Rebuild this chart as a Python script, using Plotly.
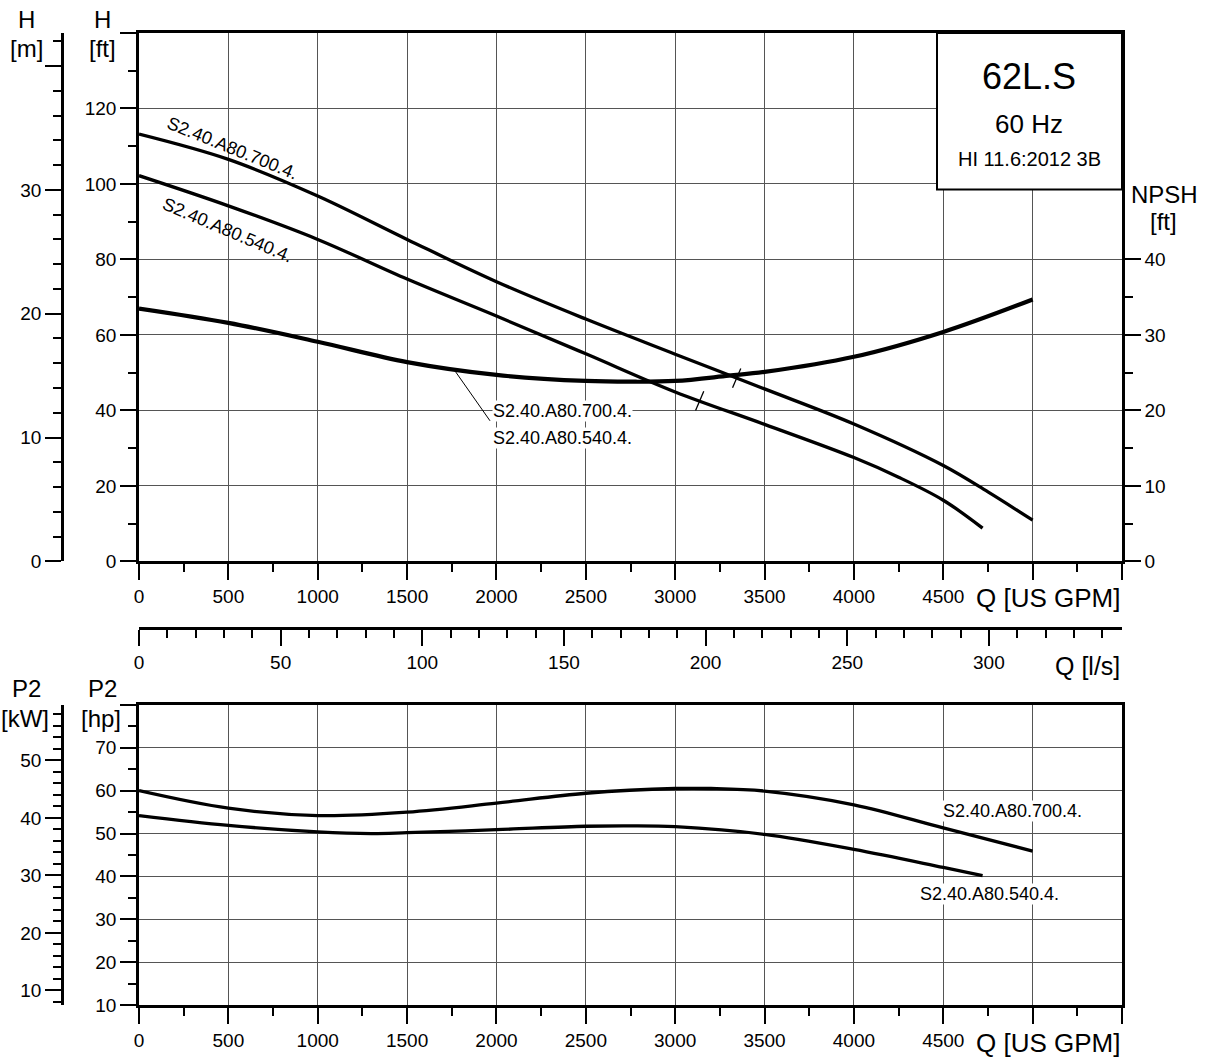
import numpy as np
import plotly.graph_objects as go

# ---------------- data ----------------
# Head curves, H [ft] vs Q [US GPM]
q_h700 = [0, 500, 1000, 1500, 2000, 2500, 3000, 3500, 4000, 4500, 4750, 5000]
h_700 = [113.2, 106.5, 96.8, 85.3, 74.1, 64.2, 54.9, 45.7, 36.4, 25.4, 18.4, 10.9]
q_h540 = [0, 500, 1000, 1500, 2000, 2500, 3000, 3500, 4000, 4250, 4500, 4720]
h_540 = [102.2, 94.2, 85.3, 74.8, 65.0, 55.0, 44.9, 36.3, 27.5, 22.3, 16.2, 8.8]
# NPSH [ft]
q_npsh = [0, 500, 1000, 1500, 2000, 2500, 2750, 3000, 3300, 3500, 4000, 4500, 5000]
npsh = [33.5, 31.6, 29.1, 26.4, 24.7, 23.9, 23.8, 23.9, 24.6, 25.1, 27.1, 30.4, 34.7]
# Power P2 [hp]
q_p700 = [0, 500, 1000, 1500, 2000, 2500, 3000, 3200, 3500, 4000, 4500, 5000]
p_700 = [60.0, 55.9, 54.2, 55.0, 57.1, 59.4, 60.5, 60.5, 59.9, 56.7, 51.3, 45.9]
q_p540 = [0, 500, 1000, 1300, 1500, 2000, 2500, 2750, 3000, 3500, 4000, 4500, 4720]
p_540 = [54.2, 51.9, 50.4, 50.0, 50.2, 50.9, 51.7, 51.8, 51.6, 49.8, 46.3, 42.1, 40.2]
# best-efficiency-point flows [US GPM]
bep_q700 = 3344
bep_q540 = 3137

curve_700 = "S2.40.A80.700.4."
curve_540 = "S2.40.A80.540.4."

gpm_ticks = list(range(0, 5501, 500))
gpm_text = [str(v) if v <= 4500 else "" for v in gpm_ticks]
ft_ticks = list(range(0, 141, 20))
ft_text = [str(v) if v < 140 else "" for v in ft_ticks]
m_ticks = [0, 10, 20, 30, 40]
m_text = ["0", "10", "20", "30", ""]
npsh_ticks = [0, 10, 20, 30, 40]
npsh_minor = [5, 15, 25, 35]
hp_ticks = list(range(10, 81, 10))
hp_text = [str(v) if v < 80 else "" for v in hp_ticks]
kw_ticks = [10, 20, 30, 40, 50]
ls_ticks = [0, 50, 100, 150, 200, 250, 300]

FT_PER_M = 3.28084
GPM_PER_LS = 15.8503
HP_PER_KW = 1.34102

# ---------------- geometry ----------------
W, H = 1207, 1063
ML, MR, MT, MB = 20, 85, 33, 55
PW = W - ML - MR
PH = H - MT - MB


def px(x):
    return (x - ML) / PW


def py(y):
    return (H - MB - y) / PH


XD = [px(139), 1.0]
UP = [py(563), 1.0]
LO = [0.0, py(707)]
FONT = "Liberation Sans, Arial, Helvetica, sans-serif"
GRID = "#555555"
TICKF = dict(size=19, color="black", family=FONT)

fig = go.Figure()

line_main = dict(color="black", width=3.3)
fig.add_trace(go.Scatter(x=q_h700, y=h_700, mode="lines", line=dict(shape="spline", **line_main),
                         xaxis="x", yaxis="y", showlegend=False))
fig.add_trace(go.Scatter(x=q_h540, y=h_540, mode="lines", line=dict(shape="spline", **line_main),
                         xaxis="x", yaxis="y", showlegend=False))
fig.add_trace(go.Scatter(x=q_npsh, y=npsh, mode="lines", line=dict(shape="spline", color="black", width=4.2),
                         xaxis="x", yaxis="y3", showlegend=False))
# BEP markers
fig.add_trace(go.Scatter(x=[bep_q700, bep_q540],
                         y=[np.interp(bep_q700, q_h700, h_700), np.interp(bep_q540, q_h540, h_540)],
                         mode="markers",
                         marker=dict(symbol="line-ns", size=15, angle=23, color="black",
                                     line=dict(color="black", width=1.3)),
                         xaxis="x", yaxis="y", showlegend=False))
fig.add_trace(go.Scatter(x=q_p700, y=p_700, mode="lines", line=dict(shape="spline", **line_main),
                         xaxis="x2", yaxis="y4", showlegend=False))
fig.add_trace(go.Scatter(x=q_p540, y=p_540, mode="lines", line=dict(shape="spline", **line_main),
                         xaxis="x2", yaxis="y4", showlegend=False))
# empty traces so that the secondary unit axes are drawn
for xa, ya in [("x", "y2"), ("x2", "y5"), ("x3", "y")]:
    fig.add_trace(go.Scatter(x=[None], y=[None], mode="lines", xaxis=xa, yaxis=ya,
                             showlegend=False, hoverinfo="skip"))

major = dict(ticks="outside", ticklen=16, tickwidth=2, tickcolor="black",
             showline=True, linewidth=2.5, linecolor="black", zeroline=False,
             tickfont=TICKF, tickmode="array")
minor_cfg = dict(ticks="outside", ticklen=8, tickwidth=1.5, tickcolor="black", showgrid=False)


def gpm_axis(anchor):
    return dict(domain=XD, range=[0, 5500], anchor=anchor, tickvals=gpm_ticks, ticktext=gpm_text,
                showgrid=True, gridcolor=GRID, gridwidth=1, mirror=True,
                minor=dict(tickmode="linear", tick0=0, dtick=250, **minor_cfg), **major)


fig.update_layout(
    width=W, height=H, margin=dict(l=ML, r=MR, t=MT, b=MB),
    paper_bgcolor="white", plot_bgcolor="white",
    font=dict(family=FONT, color="black"),
    xaxis=gpm_axis("y"),
    xaxis2=gpm_axis("y4"),
    xaxis3=dict(overlaying="x", anchor="free", position=py(630), side="bottom", domain=XD,
                range=[0, 5500 / GPM_PER_LS], tickvals=ls_ticks, showgrid=False,
                minor=dict(tickmode="linear", tick0=0, dtick=10, **minor_cfg), **major),
    yaxis=dict(domain=UP, range=[0, 140], anchor="x", tickvals=ft_ticks, ticktext=ft_text,
               showgrid=True, gridcolor=GRID, gridwidth=1, mirror=True,
               minor=dict(tickmode="linear", tick0=0, dtick=10, **minor_cfg), **major),
    yaxis2=dict(overlaying="y", anchor="free", position=px(62), side="left", domain=UP,
                range=[0, 140 / FT_PER_M], tickvals=m_ticks, ticktext=m_text, showgrid=False,
                minor=dict(tickmode="linear", tick0=0, dtick=2, **minor_cfg), **major),
    yaxis3=dict(overlaying="y", anchor="x", side="right", range=[0, 70], domain=UP,
                tickvals=npsh_ticks, showgrid=False,
                minor=dict(tickmode="array", tickvals=npsh_minor, **minor_cfg), **major),
    yaxis4=dict(domain=LO, range=[10, 80], anchor="x2", tickvals=hp_ticks, ticktext=hp_text,
                showgrid=True, gridcolor=GRID, gridwidth=1, mirror=True,
                minor=dict(tickmode="linear", tick0=0, dtick=5, **minor_cfg), **major),
    yaxis5=dict(overlaying="y4", anchor="free", position=px(62), side="left", domain=LO,
                range=[10 / HP_PER_KW, 80 / HP_PER_KW], tickvals=kw_ticks, showgrid=False,
                minor=dict(tickmode="linear", tick0=0, dtick=2, **minor_cfg), **major),
)


def ann(text, x, y, size, **kw):
    d = dict(text=text, x=px(x), y=py(y), xref="paper", yref="paper", xanchor="center",
             yanchor="middle", showarrow=False, font=dict(size=size, color="black", family=FONT))
    d.update(kw)
    return d


annotations = [
    ann("H", 26, 19, 24), ann("[m]", 26, 49, 24),
    ann("H", 102, 19, 24), ann("[ft]", 102, 49, 24),
    ann("NPSH", 1164, 195, 24), ann("[ft]", 1163, 222, 24),
    ann("P2", 26, 691, 24), ann("[kW]", 25, 721, 24),
    ann("P2", 102, 691, 24), ann("[hp]", 101, 721, 24),
    ann("Q [US GPM]", 1048, 600, 26), ann("Q [l/s]", 1087, 668, 25),
    ann("Q [US GPM]", 1048, 1046, 26),
    ann("62L.S", 1029, 77, 36), ann("60 Hz", 1029, 124, 26), ann("HI 11.6:2012 3B", 1029, 159, 20),
    ann(curve_700, 232, 148, 18, textangle=22),
    ann(curve_540, 227, 231, 18, textangle=23),
    ann(curve_700, 562, 412, 18, bgcolor="white", borderpad=0),
    ann(curve_540, 562, 439, 18, bgcolor="white", borderpad=0),
    ann(curve_700, 1012, 813, 18, bgcolor="white", borderpad=0),
    ann(curve_540, 989, 897, 18, bgcolor="white", borderpad=0),
]
fig.update_layout(annotations=annotations)

fig.update_layout(shapes=[
    dict(type="rect", xref="paper", yref="paper", x0=px(937), x1=px(1122), y0=py(190), y1=py(33),
         line=dict(color="black", width=2), fillcolor="white", layer="above"),
    dict(type="line", xref="paper", yref="paper", x0=px(455), y0=py(372), x1=px(490), y1=py(422),
         line=dict(color="black", width=1)),
])

fig.write_html("out.html", config={"displayModeBar": False},
               post_script="document.body.style.margin='0';document.body.style.overflow='hidden';")
